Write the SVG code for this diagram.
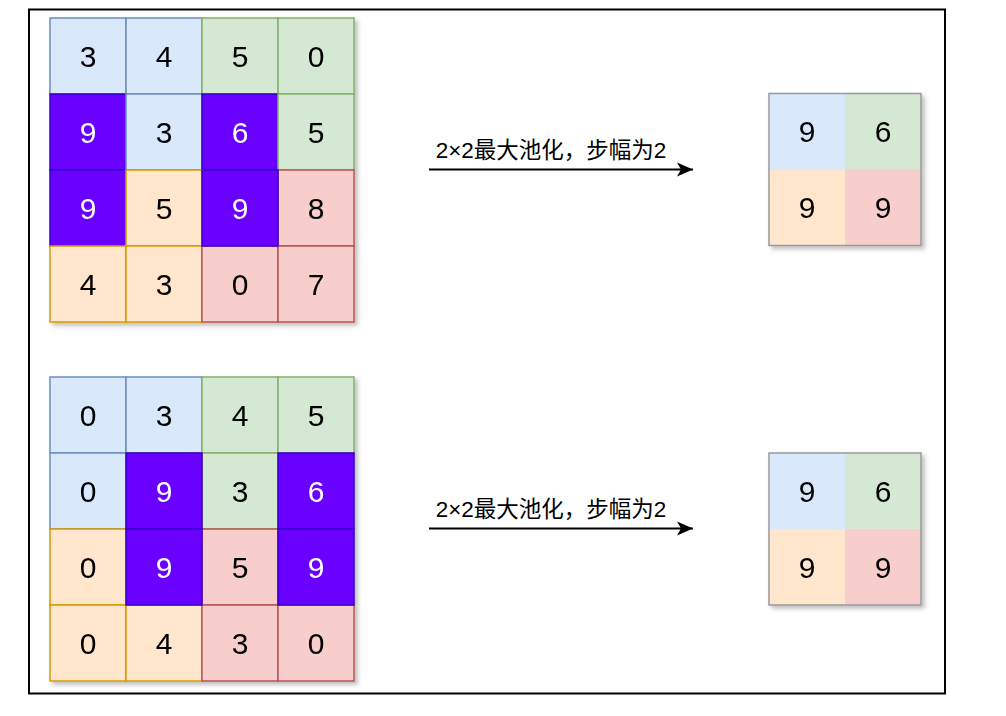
<svg xmlns="http://www.w3.org/2000/svg" width="1006" height="716" viewBox="0 0 1006 716">
<style>
.n{font-family:"Liberation Sans",Arial,sans-serif;font-size:30px;text-anchor:middle;fill:#000}
.w{fill:#fff}
.b{fill:#dae8fc;stroke:#6c8ebf;stroke-width:1.5}
.g{fill:#d5e8d4;stroke:#82b366;stroke-width:1.5}
.o{fill:#ffe6cc;stroke:#d79b00;stroke-width:1.5}
.r{fill:#f8cecc;stroke:#b85450;stroke-width:1.5}
.p{fill:#6a00ff;stroke:#3700cc;stroke-width:1.5}
.ob{fill:#dae8fc}.og{fill:#d5e8d4}.oo{fill:#ffe6cc}.or{fill:#f8cecc}
.frame{fill:none;stroke:#999;stroke-width:1.5}
.lbl{font-family:"Liberation Sans","Noto Sans CJK SC",sans-serif;font-size:22.5px;text-anchor:middle;fill:#000}
.edge{stroke:#000;stroke-width:2;fill:none}
</style>
<defs>
<filter id="sh" x="-10%" y="-10%" width="130%" height="130%">
<feDropShadow dx="3" dy="3" stdDeviation="2" flood-color="#000" flood-opacity="0.25"/>
</filter>
<marker id="ar" markerWidth="18" markerHeight="16" viewBox="0 0 18 16" refX="17" refY="8" orient="auto" markerUnits="userSpaceOnUse">
<path d="M1,1 L17,8 L1,15 L5,8 Z" fill="#000"/>
</marker>
</defs>
<rect x="29" y="9.5" width="916" height="684" fill="#fff" stroke="#000" stroke-width="2"/>

<g id="grid1" filter="url(#sh)">
<g id="c1_00"><rect class="b" x="50" y="18" width="76" height="76"/><text class="n" x="88" y="66.8">3</text></g>
<g id="c1_01"><rect class="b" x="126" y="18" width="76" height="76"/><text class="n" x="164" y="66.8">4</text></g>
<g id="c1_02"><rect class="g" x="202" y="18" width="76" height="76"/><text class="n" x="240" y="66.8">5</text></g>
<g id="c1_03"><rect class="g" x="278" y="18" width="76" height="76"/><text class="n" x="316" y="66.8">0</text></g>
<g id="c1_10"><rect class="p" x="50" y="94" width="76" height="76"/><text class="n w" x="88" y="142.8">9</text></g>
<g id="c1_11"><rect class="b" x="126" y="94" width="76" height="76"/><text class="n" x="164" y="142.8">3</text></g>
<g id="c1_12"><rect class="p" x="202" y="94" width="76" height="76"/><text class="n w" x="240" y="142.8">6</text></g>
<g id="c1_13"><rect class="g" x="278" y="94" width="76" height="76"/><text class="n" x="316" y="142.8">5</text></g>
<g id="c1_20"><rect class="p" x="50" y="170" width="76" height="76"/><text class="n w" x="88" y="218.8">9</text></g>
<g id="c1_21"><rect class="o" x="126" y="170" width="76" height="76"/><text class="n" x="164" y="218.8">5</text></g>
<g id="c1_23"><rect class="r" x="278" y="170" width="76" height="76"/><text class="n" x="316" y="218.8">8</text></g>
<g id="c1_30"><rect class="o" x="50" y="246" width="76" height="76"/><text class="n" x="88" y="294.8">4</text></g>
<g id="c1_31"><rect class="o" x="126" y="246" width="76" height="76"/><text class="n" x="164" y="294.8">3</text></g>
<g id="c1_32"><rect class="r" x="202" y="246" width="76" height="76"/><text class="n" x="240" y="294.8">0</text></g>
<g id="c1_33"><rect class="r" x="278" y="246" width="76" height="76"/><text class="n" x="316" y="294.8">7</text></g>
<g id="c1_22"><rect class="p" x="202" y="170" width="76" height="76"/><text class="n w" x="240" y="218.8">9</text></g>
</g>

<g id="grid2" filter="url(#sh)">
<g id="c2_00"><rect class="b" x="50" y="377" width="76" height="76"/><text class="n" x="88" y="425.8">0</text></g>
<g id="c2_01"><rect class="b" x="126" y="377" width="76" height="76"/><text class="n" x="164" y="425.8">3</text></g>
<g id="c2_02"><rect class="g" x="202" y="377" width="76" height="76"/><text class="n" x="240" y="425.8">4</text></g>
<g id="c2_03"><rect class="g" x="278" y="377" width="76" height="76"/><text class="n" x="316" y="425.8">5</text></g>
<g id="c2_10"><rect class="b" x="50" y="453" width="76" height="76"/><text class="n" x="88" y="501.8">0</text></g>
<g id="c2_12"><rect class="g" x="202" y="453" width="76" height="76"/><text class="n" x="240" y="501.8">3</text></g>
<g id="c2_20"><rect class="o" x="50" y="529" width="76" height="76"/><text class="n" x="88" y="577.8">0</text></g>
<g id="c2_22"><rect class="r" x="202" y="529" width="76" height="76"/><text class="n" x="240" y="577.8">5</text></g>
<g id="c2_30"><rect class="o" x="50" y="605" width="76" height="76"/><text class="n" x="88" y="653.8">0</text></g>
<g id="c2_31"><rect class="o" x="126" y="605" width="76" height="76"/><text class="n" x="164" y="653.8">4</text></g>
<g id="c2_32"><rect class="r" x="202" y="605" width="76" height="76"/><text class="n" x="240" y="653.8">3</text></g>
<g id="c2_33"><rect class="r" x="278" y="605" width="76" height="76"/><text class="n" x="316" y="653.8">0</text></g>
<g id="c2_11"><rect class="p" x="126" y="453" width="76" height="76"/><text class="n w" x="164" y="501.8">9</text></g>
<g id="c2_13"><rect class="p" x="278" y="453" width="76" height="76"/><text class="n w" x="316" y="501.8">6</text></g>
<g id="c2_21"><rect class="p" x="126" y="529" width="76" height="76"/><text class="n w" x="164" y="577.8">9</text></g>
<g id="c2_23"><rect class="p" x="278" y="529" width="76" height="76"/><text class="n w" x="316" y="577.8">9</text></g>
</g>

<g id="out1" filter="url(#sh)">
<g id="o1_00"><rect class="ob" x="769" y="93.5" width="76" height="76"/><text class="n" x="807" y="142.3">9</text></g>
<g id="o1_01"><rect class="og" x="845" y="93.5" width="76" height="76"/><text class="n" x="883" y="142.3">6</text></g>
<g id="o1_10"><rect class="oo" x="769" y="169.5" width="76" height="76"/><text class="n" x="807" y="218.3">9</text></g>
<g id="o1_11"><rect class="or" x="845" y="169.5" width="76" height="76"/><text class="n" x="883" y="218.3">9</text></g>
<rect class="frame" x="769" y="93.5" width="152" height="152"/>
</g>

<g id="out2" filter="url(#sh)">
<g id="o2_00"><rect class="ob" x="769" y="453" width="76" height="76"/><text class="n" x="807" y="501.8">9</text></g>
<g id="o2_01"><rect class="og" x="845" y="453" width="76" height="76"/><text class="n" x="883" y="501.8">6</text></g>
<g id="o2_10"><rect class="oo" x="769" y="529" width="76" height="76"/><text class="n" x="807" y="577.8">9</text></g>
<g id="o2_11"><rect class="or" x="845" y="529" width="76" height="76"/><text class="n" x="883" y="577.8">9</text></g>
<rect class="frame" x="769" y="453" width="152" height="152"/>
</g>

<g id="connectors">
<g id="e1"><path class="edge" d="M429,169.5 L693,169.5" marker-end="url(#ar)"/><text class="lbl" x="551" y="157.5">2×2最大池化，步幅为2</text></g>
<g id="e2"><path class="edge" d="M429,528.5 L693,528.5" marker-end="url(#ar)"/><text class="lbl" x="551" y="516.5">2×2最大池化，步幅为2</text></g>
</g>
</svg>
